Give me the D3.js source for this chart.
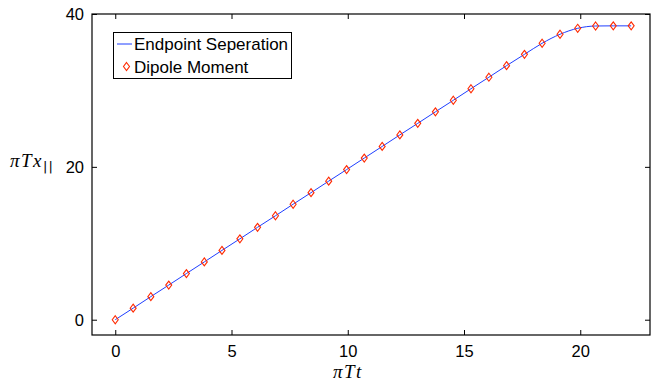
<!DOCTYPE html>
<html><head><meta charset="utf-8">
<script src="https://cdn.jsdelivr.net/npm/d3@7"></script>
<style>html,body{margin:0;padding:0;background:#fff;}svg{display:block;}</style>
</head><body>
<script>
const xValues = [0, 0.77, 1.53, 2.30, 3.06, 3.83, 4.59, 5.36, 6.12, 6.89, 7.65, 8.42, 9.18, 9.95, 10.71, 11.48, 12.24, 13.01, 13.77, 14.54, 15.30, 16.07, 16.83, 17.60, 18.36, 19.13, 19.89, 20.66, 21.42, 22.19];
const yValues = [0, 1.51, 3.02, 4.53, 6.04, 7.56, 9.07, 10.58, 12.09, 13.60, 15.11, 16.62, 18.13, 19.64, 21.15, 22.67, 24.18, 25.69, 27.20, 28.71, 30.22, 31.73, 33.24, 34.72, 36.17, 37.35, 38.13, 38.43, 38.45, 38.45];
const xTicks = [0, 5, 10, 15, 20];
const yTicks = [0, 20, 40];
const seriesNames = ["Endpoint Seperation", "Dipole Moment"];

const W = 652, H = 381;
const L = 92, R = 650, T = 14, B = 335;
const svg = d3.select("body").append("svg").attr("width", W).attr("height", H);

const x = d3.scaleLinear().domain([-1, 23]).range([L, R]);
const y = d3.scaleLinear().domain([-2, 40]).range([B, T]);
const data = xValues.map((v, i) => ({x: v, y: yValues[i]}));

const font = "'Liberation Sans', Arial, Helvetica, sans-serif";
const tickLen = 5;

// axes (MATLAB box style, inward ticks on all sides)
const gB = svg.append("g").attr("transform", `translate(0,${B})`)
  .call(d3.axisBottom(x).tickValues(xTicks).tickSize(-tickLen).tickPadding(10).tickFormat(d3.format("d")));
const gT = svg.append("g").attr("transform", `translate(0,${T})`)
  .call(d3.axisTop(x).tickValues(xTicks).tickSize(-tickLen).tickFormat(""));
const gL = svg.append("g").attr("transform", `translate(${L},0)`)
  .call(d3.axisLeft(y).tickValues(yTicks).tickSize(-tickLen).tickPadding(8).tickFormat(d3.format("d")));
const gR = svg.append("g").attr("transform", `translate(${R},0)`)
  .call(d3.axisRight(y).tickValues(yTicks).tickSize(-tickLen).tickFormat(""));
[gB, gT, gL, gR].forEach(g => {
  g.select(".domain").remove();
  g.selectAll(".tick line").attr("stroke", "#000").attr("stroke-width", 1);
  g.selectAll("text").attr("font-family", font).attr("font-size", 16.5).attr("fill", "#000");
});
gL.selectAll("text").attr("dy", "0.36em");

svg.append("rect").attr("x", L).attr("y", T).attr("width", R - L).attr("height", B - T)
  .attr("fill", "none").attr("stroke", "#000").attr("stroke-width", 1.2);

// line
svg.append("path").datum(data)
  .attr("d", d3.line().x(d => x(d.x)).y(d => y(d.y)).curve(d3.curveMonotoneX))
  .attr("fill", "none").attr("stroke", "#1f3fff").attr("stroke-width", 1);

// diamond markers
const dia = (cx, cy) => `M${cx},${cy-4}L${cx+3},${cy}L${cx},${cy+4}L${cx-3},${cy}Z`;
svg.append("g").selectAll("path").data(data).join("path")
  .attr("d", d => dia(x(d.x), y(d.y)))
  .attr("fill", "none").attr("stroke", "#ff2a00").attr("stroke-width", 1.1);

// legend
const lg = svg.append("g");
lg.append("rect").attr("x", 113.5).attr("y", 32.5).attr("width", 178).attr("height", 46)
  .attr("fill", "#fff").attr("stroke", "#000").attr("stroke-width", 1);
lg.append("line").attr("x1", 117).attr("x2", 132).attr("y1", 44).attr("y2", 44)
  .attr("stroke", "#1f3fff").attr("stroke-width", 1);
lg.append("path").attr("d", dia(126.5, 66.5)).attr("fill", "none").attr("stroke", "#ff2a00").attr("stroke-width", 1.1);
lg.append("text").attr("x", 134).attr("y", 50).text(seriesNames[0])
  .attr("font-family", font).attr("font-size", 17).attr("fill", "#000");
lg.append("text").attr("x", 134).attr("y", 72.5).text(seriesNames[1])
  .attr("font-family", font).attr("font-size", 17).attr("fill", "#000");

// axis labels
const serif = "'Liberation Serif', 'Times New Roman', serif";
const xl = svg.append("text").attr("x", 333).attr("y", 378)
  .attr("font-family", serif).attr("font-style", "italic").attr("font-size", 19)
  .attr("letter-spacing", 1.5).attr("fill", "#000");
xl.text("πTt");
const yl = svg.append("text").attr("x", 10).attr("y", 167)
  .attr("font-family", serif).attr("font-style", "italic").attr("font-size", 19)
  .attr("letter-spacing", 1.5).attr("fill", "#000");
yl.append("tspan").text("πTx");
yl.append("tspan").attr("dy", 4).attr("font-size", 13).attr("font-style", "normal")
  .attr("letter-spacing", 1).attr("font-family", "'DejaVu Sans', sans-serif").attr("fill", "#000").text("||");
</script>
</body></html>
